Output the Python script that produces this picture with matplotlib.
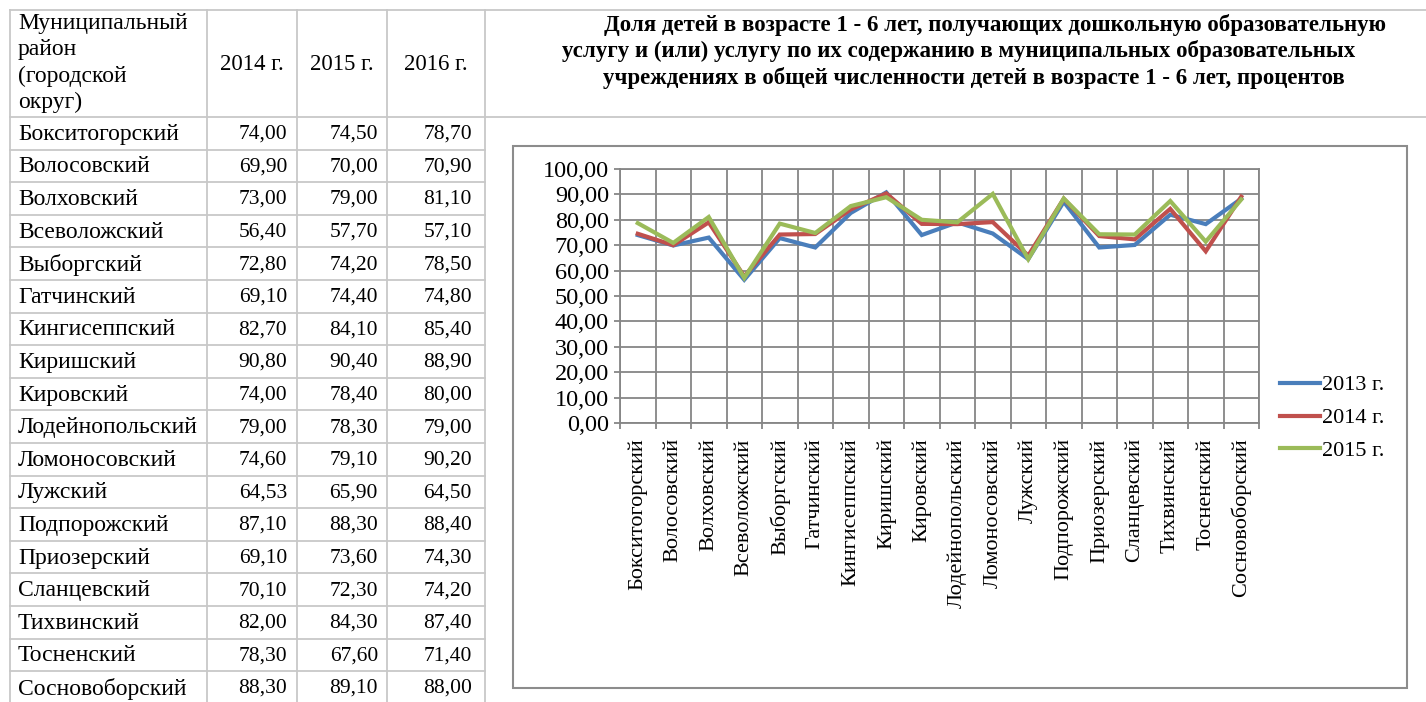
import matplotlib
matplotlib.use('Agg')

import numpy as np
import matplotlib.pyplot as plt
import matplotlib.transforms as mtransforms
from matplotlib.patches import Rectangle

plt.rcParams['font.family'] = ['Liberation Serif', 'DejaVu Serif']

districts = ['Бокситогорский', 'Волосовский', 'Волховский', 'Всеволожский',
             'Выборгский', 'Гатчинский', 'Кингисеппский', 'Киришский',
             'Кировский', 'Лодейнопольский', 'Ломоносовский', 'Лужский',
             'Подпорожский', 'Приозерский', 'Сланцевский', 'Тихвинский',
             'Тосненский', 'Сосновоборский']
v2014 = [74.00, 69.90, 73.00, 56.40, 72.80, 69.10, 82.70, 90.80, 74.00,
         79.00, 74.60, 64.53, 87.10, 69.10, 70.10, 82.00, 78.30, 88.30]
v2015 = [74.50, 70.00, 79.00, 57.70, 74.20, 74.40, 84.10, 90.40, 78.40,
         78.30, 79.10, 65.90, 88.30, 73.60, 72.30, 84.30, 67.60, 89.10]
v2016 = [78.70, 70.90, 81.10, 57.10, 78.50, 74.80, 85.40, 88.90, 80.00,
         79.00, 90.20, 64.50, 88.40, 74.30, 74.20, 87.40, 71.40, 88.00]
table_years = ['2014 г.', '2015 г.', '2016 г.']
legend_labels = ['2013 г.', '2014 г.', '2015 г.']
colors = ['#4A7EBB', '#C0504D', '#9BBB59']

title_lines = [
    'Доля детей в возрасте 1 - 6 лет, получающих дошкольную образовательную',
    'услугу и (или) услугу по их содержанию в муниципальных образовательных',
    'учреждениях в общей численности детей в возрасте 1 - 6 лет, процентов',
]

W, H = 1426, 702
fig = plt.figure(figsize=(W / 100, H / 100), dpi=100)

# background axes in pixel coordinates for the table and frame
bg = fig.add_axes([0, 0, 1, 1])
bg.set_xlim(0, W)
bg.set_ylim(H, 0)
bg.axis('off')

def fmt(v):
    return '{:.2f}'.format(v).replace('.', ',')

gl = '#C8C8C8'
glw = 1.3
top, head_bot, rowh = 10, 117, 32.6
colx = [10, 207, 297, 387, 485]
num_right = [287, 378, 472]
bg.plot([10, W], [top, top], color=gl, lw=glw)
bg.plot([10, W], [head_bot, head_bot], color=gl, lw=glw)
for k in range(1, 18):
    y = head_bot + k * rowh
    bg.plot([10, 485], [y, y], color=gl, lw=glw)
for x in colx:
    bg.plot([x, x], [top, H], color=gl, lw=glw)

for i, line in enumerate(['Муниципальный', 'район', '(городской', 'округ)']):
    bg.text(18, 23 + i * 26.5, line, fontsize=17, va='center', ha='left')
for j, yr in enumerate(table_years):
    bg.text((colx[j + 1] + colx[j + 2]) / 2, 65, yr, fontsize=16.5, va='center', ha='center')

for i, name in enumerate(districts):
    yc = head_bot + (i + 0.5) * rowh + 1
    bg.text(18, yc, name, fontsize=17, va='center', ha='left')
    for j, vals in enumerate([v2014, v2015, v2016]):
        bg.text(num_right[j], yc, fmt(vals[i]), fontsize=15.5, va='center', ha='right')

# title
title_x = [995, 959, 974]
for i, line in enumerate(title_lines):
    bg.text(title_x[i], 25 + i * 26.5, line, fontsize=16.5, fontweight='bold',
            va='center', ha='center')

# chart frame
bg.add_patch(Rectangle((513, 146), 1407 - 513, 688 - 146, fill=False,
                       edgecolor='#8C8C8C', lw=1.5))

# chart
px0, px1, py0, py1 = 620, 1259, 169, 423
ax = fig.add_axes([px0 / W, 1 - py1 / H, (px1 - px0) / W, (py1 - py0) / H])
x = np.arange(len(districts))
for vals, c, lab in zip([v2014, v2015, v2016], colors, legend_labels):
    ax.plot(x, vals, color=c, lw=3.0, label=lab, solid_joinstyle='miter')

ax.set_xlim(-0.5, len(districts) - 0.5)
ax.set_ylim(0, 100)
ax.set_yticks(np.arange(0, 101, 10))
ax.set_yticklabels([fmt(v) for v in np.arange(0, 101, 10)], fontsize=17.5)
ax.set_xticks(x)
ax.set_xticklabels(districts, rotation=90, fontsize=16)
shift = mtransforms.ScaledTranslation(0.05, 0, fig.dpi_scale_trans)
for lbl in ax.get_xticklabels():
    lbl.set_transform(lbl.get_transform() + shift)
ax.set_xticks(np.arange(-0.5, len(districts)), minor=True)
ax.tick_params(axis='x', which='major', length=0, pad=11)
ax.tick_params(axis='x', which='minor', length=4, color='#868686', width=1.3)
ax.tick_params(axis='y', length=4, color='#868686', width=1.3, pad=4)
ax.grid(axis='y', which='major', color='#868686', lw=1.3)
ax.grid(axis='x', which='minor', color='#868686', lw=1.3)
ax.set_axisbelow(True)
for s in ax.spines.values():
    s.set_color('#868686')
    s.set_linewidth(1.3)

fig.legend(loc='center left', bbox_to_anchor=(1280 / W, 1 - 418 / H),
           frameon=False, fontsize=16, handlelength=1.8, handletextpad=0.1,
           labelspacing=0.55, borderpad=0, borderaxespad=0)

fig.savefig('out.png', dpi=100)
